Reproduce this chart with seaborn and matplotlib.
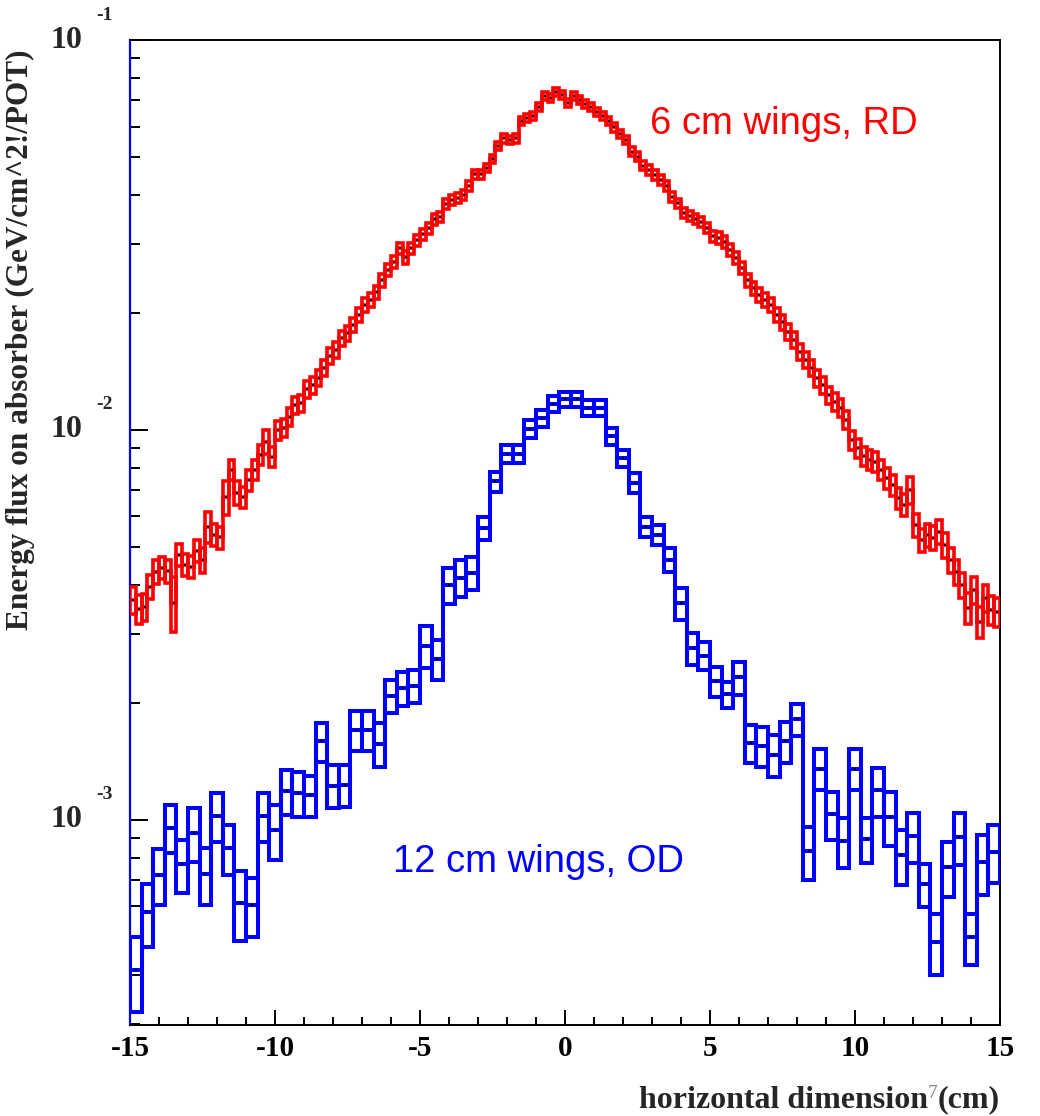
import numpy as np
import pandas as pd
import matplotlib
matplotlib.use("Agg")
import matplotlib.pyplot as plt
import seaborn as sns
from matplotlib.ticker import MultipleLocator, FixedLocator, NullFormatter

# ---------------- data ----------------
x_min, x_max = -15.0, 15.0
y_min, y_max = 2.98e-4, 0.1

red_bin_width = 0.2     # 150 bins
blue_bin_width = 0.4    # 75 bins

red_vals = [
    3.66e-3, 3.47e-3, 3.51e-3, 3.96e-3, 4.33e-3, 4.43e-3, 4.35e-3, 3.61e-3, 4.78e-3, 4.51e-3,
    4.46e-3, 4.90e-3, 4.64e-3, 5.65e-3, 5.38e-3, 5.31e-3, 6.72e-3, 7.90e-3, 6.91e-3, 6.72e-3,
    7.44e-3, 7.90e-3, 8.63e-3, 9.33e-3, 8.54e-3, 1.000e-2, 1.014e-2, 1.082e-2, 1.159e-2, 1.171e-2,
    1.272e-2, 1.305e-2, 1.359e-2, 1.442e-2, 1.548e-2, 1.604e-2, 1.722e-2, 1.773e-2, 1.858e-2, 1.972e-2,
    2.092e-2, 2.154e-2, 2.259e-2, 2.424e-2, 2.572e-2, 2.696e-2, 2.922e-2, 2.777e-2, 2.922e-2, 3.070e-2,
    3.175e-2, 3.295e-2, 3.469e-2, 3.523e-2, 3.797e-2, 3.887e-2, 3.933e-2, 4.004e-2, 4.222e-2, 4.523e-2,
    4.523e-2, 4.696e-2, 4.953e-2, 5.347e-2, 5.596e-2, 5.541e-2, 5.596e-2, 6.198e-2, 6.310e-2, 6.385e-2,
    6.721e-2, 7.200e-2, 7.090e-2, 7.356e-2, 7.227e-2, 6.908e-2, 7.187e-2, 7.020e-2, 6.856e-2, 6.721e-2,
    6.538e-2, 6.385e-2, 6.209e-2, 5.972e-2, 5.741e-2, 5.541e-2, 5.171e-2, 5.021e-2, 4.760e-2, 4.642e-2,
    4.507e-2, 4.375e-2, 4.222e-2, 3.963e-2, 3.813e-2, 3.606e-2, 3.538e-2, 3.469e-2, 3.415e-2, 3.295e-2,
    3.143e-2, 3.107e-2, 3.034e-2, 2.893e-2, 2.761e-2, 2.603e-2, 2.424e-2, 2.312e-2, 2.219e-2, 2.154e-2,
    2.092e-2, 1.972e-2, 1.891e-2, 1.784e-2, 1.702e-2, 1.585e-2, 1.512e-2, 1.442e-2, 1.359e-2, 1.305e-2,
    1.229e-2, 1.180e-2, 1.139e-2, 1.061e-2, 9.43e-3, 8.99e-3, 8.58e-3, 8.38e-3, 8.28e-3, 7.90e-3,
    7.53e-3, 7.23e-3, 6.69e-3, 6.42e-3, 7.02e-3, 5.71e-3, 5.22e-3, 5.38e-3, 5.29e-3, 5.48e-3,
    5.07e-3, 4.64e-3, 4.33e-3, 4.00e-3, 3.50e-3, 3.89e-3, 3.22e-3, 3.71e-3, 3.45e-3, 3.42e-3,
]

# relative error of each red bin (half-height of its box / value)
red_rel_err = [
    0.080, 0.085, 0.080, 0.070, 0.070, 0.065, 0.070, 0.160, 0.065, 0.065,
    0.065, 0.065, 0.075, 0.090, 0.065, 0.065, 0.100, 0.060, 0.070, 0.060,
    0.060, 0.060, 0.060, 0.070, 0.060, 0.055, 0.055, 0.055, 0.050, 0.050,
    0.050, 0.050, 0.048, 0.048, 0.046, 0.046, 0.044, 0.044, 0.042, 0.042,
    0.040, 0.040, 0.038, 0.038, 0.036, 0.036, 0.034, 0.038, 0.033, 0.033,
    0.032, 0.032, 0.031, 0.030, 0.030, 0.030, 0.029, 0.029, 0.028, 0.028,
    0.026, 0.026, 0.025, 0.025, 0.025, 0.025, 0.025, 0.024, 0.024, 0.024,
    0.024, 0.024, 0.024, 0.024, 0.024, 0.024, 0.024, 0.024, 0.024, 0.024,
    0.024, 0.024, 0.024, 0.025, 0.025, 0.025, 0.026, 0.026, 0.026, 0.027,
    0.027, 0.027, 0.028, 0.028, 0.028, 0.029, 0.029, 0.030, 0.030, 0.030,
    0.032, 0.033, 0.034, 0.035, 0.036, 0.037, 0.038, 0.039, 0.040, 0.041,
    0.042, 0.043, 0.044, 0.045, 0.046, 0.047, 0.048, 0.049, 0.050, 0.050,
    0.051, 0.052, 0.053, 0.054, 0.056, 0.056, 0.057, 0.058, 0.060, 0.060,
    0.062, 0.062, 0.063, 0.065, 0.080, 0.068, 0.068, 0.068, 0.070, 0.070,
    0.072, 0.074, 0.074, 0.075, 0.090, 0.080, 0.090, 0.080, 0.085, 0.085,
]

blue_vals = [
    4.12e-4, 5.80e-4, 7.23e-4, 9.56e-4, 7.69e-4, 9.27e-4, 7.26e-4, 1.025e-3, 8.47e-4, 6.13e-4,
    6.06e-4, 1.025e-3, 9.41e-4, 1.186e-3, 1.175e-3, 1.160e-3, 1.590e-3, 1.225e-3, 1.230e-3, 1.700e-3,
    1.700e-3, 1.570e-3, 2.080e-3, 2.180e-3, 2.210e-3, 2.800e-3, 2.590e-3, 4.000e-3, 4.180e-3, 4.310e-3,
    5.600e-3, 7.380e-3, 8.680e-3, 8.680e-3, 1.007e-2, 1.073e-2, 1.168e-2, 1.198e-2, 1.198e-2, 1.141e-2,
    1.141e-2, 9.630e-3, 8.470e-3, 7.330e-3, 5.650e-3, 5.380e-3, 4.650e-3, 3.600e-3, 2.760e-3, 2.640e-3,
    2.270e-3, 2.100e-3, 2.320e-3, 1.575e-3, 1.550e-3, 1.470e-3, 1.590e-3, 1.810e-3, 8.31e-4, 1.355e-3,
    1.034e-3, 8.83e-4, 1.355e-3, 8.94e-4, 1.190e-3, 1.020e-3, 8.12e-4, 9.09e-4, 6.85e-4, 4.87e-4,
    7.57e-4, 9.04e-4, 5.00e-4, 7.79e-4, 8.30e-4,
]

blue_errs = [
    0.90e-4, 1.07e-4, 1.18e-4, 1.34e-4, 1.20e-4, 1.45e-4, 1.20e-4, 1.45e-4, 1.24e-4, 1.25e-4,
    1.04e-4, 1.45e-4, 1.52e-4, 1.56e-4, 1.55e-4, 1.40e-4, 1.80e-4, 1.55e-4, 1.50e-4, 2.00e-4,
    2.00e-4, 2.00e-4, 2.05e-4, 2.20e-4, 2.10e-4, 3.50e-4, 3.00e-4, 4.30e-4, 4.60e-4, 4.20e-4,
    3.90e-4, 4.40e-4, 4.70e-4, 4.70e-4, 5.50e-4, 5.30e-4, 5.40e-4, 5.10e-4, 5.10e-4, 5.30e-4,
    5.30e-4, 4.80e-4, 4.20e-4, 4.30e-4, 3.40e-4, 3.20e-4, 3.30e-4, 3.40e-4, 2.60e-4, 2.20e-4,
    2.00e-4, 1.60e-4, 2.25e-4, 1.75e-4, 1.80e-4, 1.80e-4, 1.90e-4, 1.70e-4, 1.29e-4, 1.65e-4,
    1.45e-4, 1.30e-4, 1.65e-4, 1.18e-4, 1.70e-4, 1.60e-4, 1.31e-4, 1.33e-4, 0.87e-4, 0.87e-4,
    1.21e-4, 1.38e-4, 0.75e-4, 1.37e-4, 1.41e-4,
]

x_tick_values = [-15, -10, -5, 0, 5, 10, 15]
x_tick_labels = ["-15", "-10", "-5", "0", "5", "10", "15"]
y_decades = [-3, -2, -1]

red_label = "6 cm wings, RD"
blue_label = "12 cm wings, OD"
y_title = "Energy flux on absorber (GeV/cm^2!/POT)"
x_title = "horizontal dimension"

# ---------------- build tables ----------------
def make_table(vals, errs, width, name):
    n = len(vals)
    centers = x_min + width * (np.arange(n) + 0.5)
    return pd.DataFrame({"x": centers, "val": np.asarray(vals), "err": np.asarray(errs), "series": name})

red = make_table(red_vals, np.asarray(red_vals) * np.asarray(red_rel_err), red_bin_width, "red")
blue = make_table(blue_vals, blue_errs, blue_bin_width, "blue")

# ---------------- style ----------------
sns.set_style("white")
plt.rcParams["font.family"] = ["Liberation Serif", "DejaVu Serif"]

fig = plt.figure(figsize=(10.4, 11.16), dpi=100)
ax = fig.add_axes([130 / 1040, 1 - 1025 / 1116, 870 / 1040, 985 / 1116])
ax.set_yscale("log")


def draw_hist(df, width, color, lw):
    lo = df["val"] - df["err"]
    # error boxes
    ax.bar(df["x"], 2 * df["err"], width=width, bottom=lo, fill=False,
           edgecolor=color, linewidth=lw, align="center", zorder=3)
    # histogram step outline through the bin values
    edges = np.append(df["x"].to_numpy() - width / 2, df["x"].iloc[-1] + width / 2)
    ax.stairs(df["val"].to_numpy(), edges, baseline=None, color=color, lw=lw, zorder=3)
    # bin-centre markers
    sns.scatterplot(data=df, x="x", y="val", color="black", s=3, marker="s",
                    linewidth=0, ax=ax, zorder=4, legend=False)


draw_hist(red, red_bin_width, "#ff0000", 2.6)
draw_hist(blue, blue_bin_width, "#0000ff", 2.9)

ax.set_xlim(x_min, x_max)
ax.set_ylim(y_min, y_max)
ax.set_xlabel("")

# spines
for s in ["top", "bottom", "right"]:
    ax.spines[s].set_color("black")
    ax.spines[s].set_linewidth(1.4)
ax.spines["left"].set_color("#0000ff")
ax.spines["left"].set_linewidth(1.6)

# x ticks
ax.set_xticks(x_tick_values)
ax.set_xticklabels(x_tick_labels, fontweight="bold", fontsize=21)
ax.xaxis.set_minor_locator(MultipleLocator(1))
ax.tick_params(axis="x", which="major", direction="in", length=10.8, width=1.4,
               top=False, bottom=True, pad=7, colors="black")
ax.tick_params(axis="x", which="minor", direction="in", length=5.5, width=1.4,
               top=False, bottom=True, colors="black")

# y ticks (custom labels)
ax.yaxis.set_major_locator(FixedLocator([10.0 ** k for k in y_decades]))
minor = [m * 10.0 ** k for k in [-4, -3, -2] for m in range(2, 10)]
ax.yaxis.set_minor_locator(FixedLocator(minor))
ax.yaxis.set_major_formatter(NullFormatter())
ax.yaxis.set_minor_formatter(NullFormatter())
ax.tick_params(axis="y", which="major", direction="in", length=13, width=1.4,
               left=True, right=False, colors="black")
ax.tick_params(axis="y", which="minor", direction="in", length=7.2, width=1.4,
               left=True, right=False, colors="black")

for k in y_decades:
    ax.annotate("10", xy=(0, 10.0 ** k), xycoords=("axes fraction", "data"),
                xytext=(-48 * 0.72, 0), textcoords="offset points",
                ha="right", va="center", fontsize=23, fontweight="bold",
                annotation_clip=False)
    ax.annotate(str(k), xy=(0, 10.0 ** k), xycoords=("axes fraction", "data"),
                xytext=(-34 * 0.72, 25 * 0.72), textcoords="offset points",
                ha="left", va="center", fontsize=14, fontweight="bold",
                annotation_clip=False)

# axis titles
ax.set_ylabel(y_title, fontsize=22.5, fontweight="bold")
ax.yaxis.set_label_coords((35 - 130) / 870, (1025 - 340) / 985)

t_cm = fig.text(1000 / 1040, 1 - 1100 / 1116, "(cm)", ha="right", va="center",
                fontsize=23, fontweight="bold")
ax.annotate(x_title, xy=(0, 0.5), xycoords=t_cm,
            xytext=(-7, 0), textcoords="offset points", ha="right", va="center",
            fontsize=23, fontweight="bold", annotation_clip=False)
ax.annotate("7", xy=(0, 1), xycoords=t_cm, xytext=(-0.5, 0),
            textcoords="offset points", ha="right", va="top",
            fontsize=14, color="#808080", annotation_clip=False)

# series labels
ax.text((650 - 130) / 870, (1025 - 124) / 985, red_label, transform=ax.transAxes,
        ha="left", va="center", color="#ff0000", fontsize=27.5, family="Liberation Sans")
ax.text((393 - 130) / 870, (1025 - 862) / 985, blue_label, transform=ax.transAxes,
        ha="left", va="center", color="#0000ff", fontsize=27.5, family="Liberation Sans")

fig.savefig("out.png", dpi=100, facecolor="white")
